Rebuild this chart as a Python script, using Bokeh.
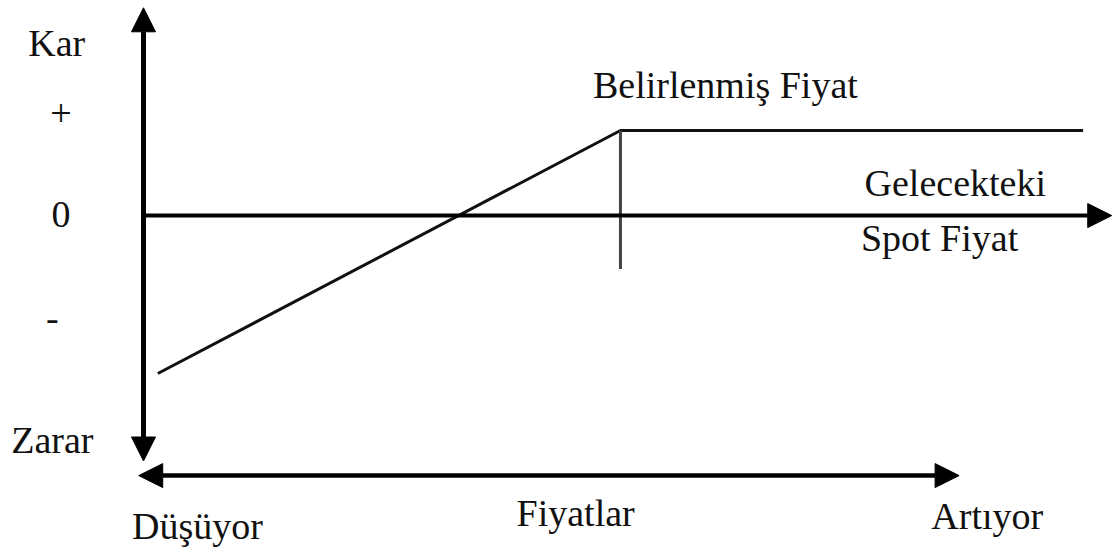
from bokeh.plotting import figure
from bokeh.models import Arrow, NormalHead, Range1d, ColumnDataSource
from bokeh.core.properties import value
from bokeh.embed import file_html
from bokeh.resources import INLINE

# ---- data (diagram units: price on x, profit on y) ----
payoff_price = [3, 100, 197]        # price points of the payoff line
payoff_profit = [-65, 35, 35]       # profit at those prices (capped above strike)
strike_price = 100
strike_low = -22                    # lower end of the strike marker
price_axis = [0, 203]               # profit axis at price 0, spot axis tip
profit_axis = [-101, 85.5]          # extent of profit axis
prices_arrow = [-1, 171]            # lower "Fiyatlar" double arrow
prices_arrow_level = -107

label_texts = ["Kar", "+", "0", "-", "Zarar", "Düşüyor", "Fiyatlar", "Artıyor",
               "Belirlenmiş Fiyat", "Gelecekteki", "Spot Fiyat"]
label_x = [-18.2, -17.3, -17.3, -19.1, -19.1, 11.3, 90.6, 176.9, 122.0, 170.2, 166.9]
label_y = [71.1, 41.9, 0.4, -42.4, -92.2, -127.6, -122.3, -123.5, 53.9, 13.5, -9.1]

FONT = "Liberation Serif"

p = figure(width=1116, height=548, output_backend="svg", toolbar_location=None,
           x_range=Range1d(-29.98, 204.0), y_range=Range1d(-137.0, 88.5),
           min_border=0, min_border_left=0, min_border_right=0,
           min_border_top=0, min_border_bottom=0)
p.axis.visible = False
p.grid.visible = False
p.outline_line_color = None
p.background_fill_color = "white"
p.border_fill_color = "white"

# payoff line
p.line(payoff_price, payoff_profit, line_color="#111111", line_width=3)
# strike marker
p.segment(x0=[strike_price], y0=[payoff_profit[1]], x1=[strike_price], y1=[strike_low],
          line_color="#444444", line_width=3)

def head():
    return NormalHead(size=24, fill_color="black", line_color="black", line_width=1)

# profit axis (double arrow)
p.add_layout(Arrow(start=head(), end=head(), x_start=price_axis[0], y_start=profit_axis[0],
                   x_end=price_axis[0], y_end=profit_axis[1],
                   line_color="black", line_width=5))
# spot price axis at zero profit
p.add_layout(Arrow(end=head(), x_start=price_axis[0], y_start=0,
                   x_end=price_axis[1], y_end=0,
                   line_color="black", line_width=4))
# lower prices double arrow
p.add_layout(Arrow(start=head(), end=head(), x_start=prices_arrow[0], y_start=prices_arrow_level,
                   x_end=prices_arrow[1], y_end=prices_arrow_level,
                   line_color="black", line_width=4.5))

src = ColumnDataSource(dict(x=label_x, y=label_y, t=label_texts))
p.text(x="x", y="y", text="t", source=src, text_font=value(FONT),
       text_font_size="38px", text_align="center", text_baseline="alphabetic",
       text_color="#111111")

open("out.html", "w").write(file_html(p, INLINE))
